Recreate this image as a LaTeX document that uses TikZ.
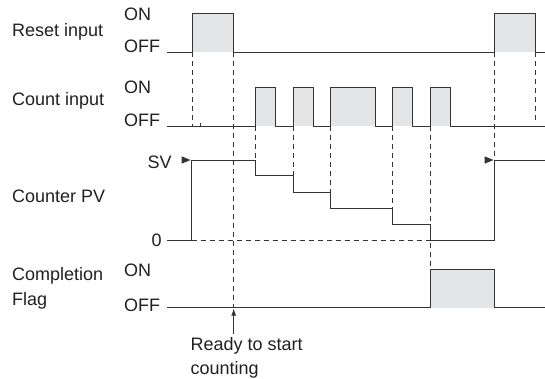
\documentclass[tikz,border=0pt]{standalone}
\usepackage{fontspec}
\setmainfont{Liberation Sans}
\usetikzlibrary{arrows.meta}
\definecolor{linec}{HTML}{333333}
\definecolor{textc}{HTML}{231F20}
\definecolor{pulsefill}{HTML}{E4E5E7}
\begin{document}
\begin{tikzpicture}[x=1pt,y=-1pt,
  wave/.style={line width=1pt, draw=linec, line join=miter},
  pulsebox/.style={fill=pulsefill, draw=none},
  guide/.style={line width=0.9pt, draw=linec, dash pattern=on 5pt off 4pt},
  lbl/.style={anchor=base west, inner sep=0pt, font=\fontsize{18}{22}\selectfont, text=textc},
  marker/.style={fill=linec, draw=none}]
\useasboundingbox (0,0) rectangle (545,378);

% labels
\node[lbl] (rst) at (12,36) {Reset input};
\node[lbl] (rston) at (124,20) {ON};
\node[lbl] (rstoff) at (124,52) {OFF};
\node[lbl] (cnt) at (12,105.7) {Count input};
\node[lbl] (cnton) at (124,93) {ON};
\node[lbl] (cntoff) at (124,126) {OFF};
\node[lbl] (sv) at (147.5,168) {SV};
\node[lbl] (pv) at (12,202) {Counter PV};
\node[lbl] (zero) at (151.5,246.5) {0};
\node[lbl] (comp) at (12,280.7) {Completion};
\node[lbl] (flag) at (12,305.7) {Flag};
\node[lbl] (flgon) at (124,276.5) {ON};
\node[lbl] (flgoff) at (124,311.7) {OFF};
\node[lbl] (rdy1) at (190.5,350.7) {Ready to start};
\node[lbl] (rdy2) at (190.5,374) {counting};

% pulse fills
\fill[pulsefill] (192.7,13) rectangle (233.7,52);
\fill[pulsefill] (494,13) rectangle (535,52);
\foreach \a/\b in {255.7/275.7, 293/313, 330.3/375.3, 392.7/412.7, 430/450}
  \fill[pulsefill] (\a,87) rectangle (\b,126.3);
\fill[pulsefill] (430,269) rectangle (494,307.7);

% guides
\draw[guide] (192.7,52) -- (192.7,126.3);
\draw[guide] (233.7,52) -- (233.7,307.7);
\draw[guide] (255.7,126.3) -- (255.7,160);
\draw[guide] (293,126.3) -- (293,175.7);
\draw[guide] (330.3,126.3) -- (330.3,192);
\draw[guide] (392.7,126.3) -- (392.7,208.3);
\draw[guide] (430,126.3) -- (430,269);
\draw[guide] (494,52) -- (494,160);
\draw[guide] (535,52) -- (535,121);
\draw[guide] (191.5,240.3) -- (430,240.3);

% waveforms
\draw[wave] (167,52) -- (192.7,52) -- (192.7,13) -- (233.7,13) -- (233.7,52)
  -- (494,52) -- (494,13) -- (535,13) -- (535,52) -- (545,52);
\draw[wave] (167,126.3) -- (255.7,126.3) -- (255.7,87) -- (275.7,87) -- (275.7,126.3)
  -- (293,126.3) -- (293,87) -- (313,87) -- (313,126.3)
  -- (330.3,126.3) -- (330.3,87) -- (375.3,87) -- (375.3,126.3)
  -- (392.7,126.3) -- (392.7,87) -- (412.7,87) -- (412.7,126.3)
  -- (430,126.3) -- (430,87) -- (450,87) -- (450,126.3) -- (545,126.3);
\draw[wave] (200.7,126.3) -- (200.7,122.5);
\draw[wave] (167,240.3) -- (191.5,240.3) -- (191.5,160) -- (255.7,160) -- (255.7,175.7)
  -- (293,175.7) -- (293,192) -- (330.3,192) -- (330.3,208.3)
  -- (392.7,208.3) -- (392.7,224.3) -- (430,224.3) -- (430,240.3)
  -- (494,240.3) -- (494,160) -- (545,160);
\draw[wave] (167,307.7) -- (430,307.7) -- (430,269) -- (494,269) -- (494,307.7) -- (545,307.7);

% SV markers
\fill[marker] (181.5,156.3) -- (190.5,160) -- (181.5,163.7) -- cycle;
\fill[marker] (484.5,156.3) -- (493.5,160) -- (484.5,163.7) -- cycle;

% ready arrow
\coordinate (rdytip) at (233.7,308.5);
\coordinate (rdytail) at (233.7,333.5);
\draw[line width=1pt, draw=linec, -{Latex[length=7pt,width=5pt]}] (rdytail) -- (rdytip);
\end{tikzpicture}
\end{document}
